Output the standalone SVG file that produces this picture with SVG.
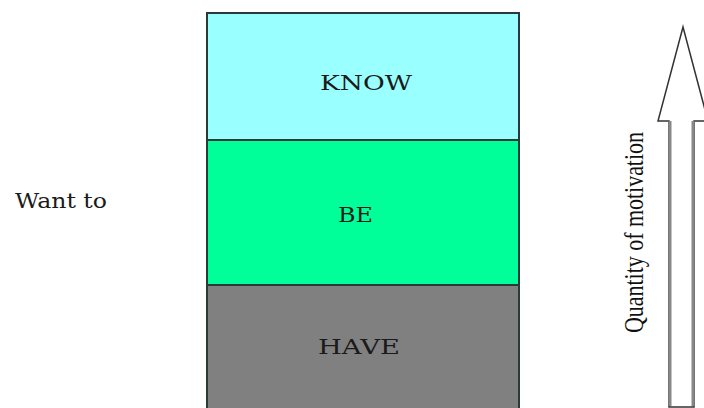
<svg xmlns="http://www.w3.org/2000/svg" width="704" height="408" viewBox="0 0 704 408">
<style>
.box{stroke:#2a3a38;stroke-width:2}
.lbl{font-family:"DejaVu Serif","Liberation Serif",serif;font-size:21px;fill:#1a1a1a}
.side{font-family:"Liberation Serif","Times New Roman",serif;font-size:27px;fill:#111}
</style>
<rect width="704" height="408" fill="#ffffff"/>
<g id="know">
<rect class="box" x="207" y="13" width="312" height="127" fill="#99ffff"/>
<text class="lbl" x="320" y="90" textLength="92" lengthAdjust="spacingAndGlyphs">KNOW</text>
</g>
<g id="be">
<rect class="box" x="207" y="140" width="312" height="145" fill="#00ff99"/>
<text class="lbl" x="338" y="222" textLength="35" lengthAdjust="spacingAndGlyphs">BE</text>
</g>
<g id="have">
<rect class="box" x="207" y="285" width="312" height="130" fill="#808080"/>
<text class="lbl" x="318" y="354" textLength="82" lengthAdjust="spacingAndGlyphs">HAVE</text>
</g>
<g id="want">
<text class="lbl" x="15" y="208" textLength="92" lengthAdjust="spacingAndGlyphs">Want to</text>
</g>
<g id="arrow">
<polygon points="683,27 708,121 694,121 694,407 669,407 669,121 658,121" fill="#ffffff" stroke="#333" stroke-width="1.5"/>
<line x1="670" y1="121" x2="670" y2="406" stroke="#888" stroke-width="3"/>
<line x1="693" y1="121" x2="693" y2="406" stroke="#888" stroke-width="3"/>
<text class="side" transform="translate(643,333) rotate(-90)" textLength="201" lengthAdjust="spacingAndGlyphs">Quantity of  motivation</text>
</g>
</svg>
